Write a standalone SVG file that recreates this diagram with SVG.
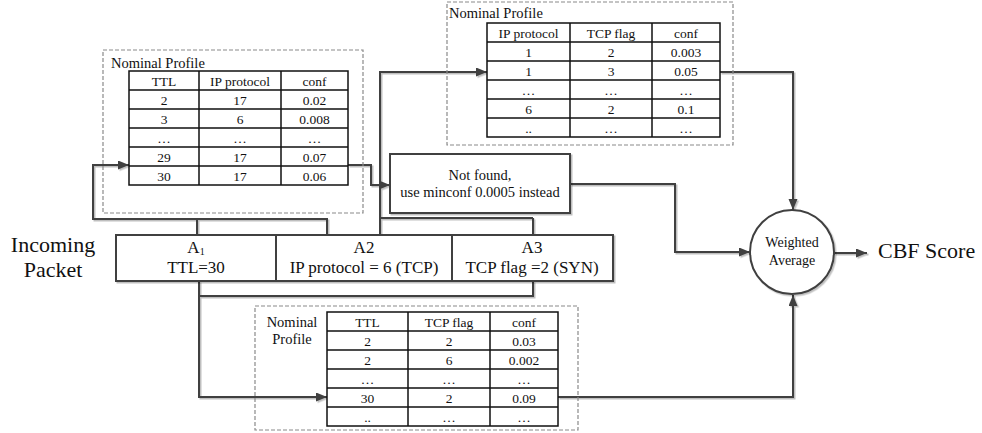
<svg xmlns="http://www.w3.org/2000/svg" width="982" height="433" viewBox="0 0 982 433">
  <defs>
    <marker id="arrow" markerUnits="userSpaceOnUse" markerWidth="12" markerHeight="10" refX="11" refY="4.5" orient="auto">
      <path d="M0,0 L11,4.5 L0,9 z" fill="#404040"/>
    </marker>
    <filter id="shade" x="-5%" y="-5%" width="110%" height="110%">
      <feDropShadow dx="1.5" dy="1.5" stdDeviation="0.7" flood-color="#000" flood-opacity="0.25"/>
    </filter>
  </defs>
  <style>
    text { font-family: "Liberation Serif", "Times New Roman", serif; fill: #111; }
    .cell { font-size: 13.5px; text-anchor: middle; }
    .title { font-size: 14.5px; }
    .big { font-size: 22px; }
    .attr { font-size: 17px; text-anchor: middle; }
    .mid { text-anchor: middle; }
    .dash { fill: none; stroke: #8a8a8a; stroke-width: 1.2; stroke-dasharray: 4 2; }
    .grid { fill: #fff; stroke: #111; stroke-width: 1.5; }
    .gline { stroke: #111; stroke-width: 1.5; }
    .box { fill: #fff; stroke: #404040; stroke-width: 2; }
    .link { fill: none; stroke: #404040; stroke-width: 2; }
  </style>
  <rect width="982" height="433" fill="#fff"/>

  <!-- connectors -->
  <g id="connectors" filter="url(#shade)">
    <!-- A1 + A2 to the TTL / IP protocol profile -->
    <path class="link" d="M197,235 V219"/>
    <path class="link" d="M327,235 V219 H93 V165 H129" marker-end="url(#arrow)"/>
    <!-- A2 + A3 to the IP protocol / TCP flag profile -->
    <path class="link" d="M533,235 V218"/>
    <path class="link" d="M380,235 V218 V72 H487" marker-end="url(#arrow)"/>
    <path class="link" d="M380,218 H533"/>
    <!-- lookup result to the fallback note -->
    <path class="link" d="M348,165 H371 V185 H390" marker-end="url(#arrow)"/>
    <!-- fallback note to the weighted average -->
    <path class="link" d="M570,184 H675 V252 H750" marker-end="url(#arrow)"/>
    <!-- IP protocol / TCP flag profile to the weighted average -->
    <path class="link" d="M720,72 H793 V210" marker-end="url(#arrow)"/>
    <!-- A1 + A3 to the TTL / TCP flag profile -->
    <path class="link" d="M533,281 V296 H199"/>
    <path class="link" d="M199,281 V397 H327" marker-end="url(#arrow)"/>
    <!-- TTL / TCP flag profile to the weighted average -->
    <path class="link" d="M558,397 H793 V295" marker-end="url(#arrow)"/>
    <!-- output -->
    <path class="link" d="M834,253 H867" marker-end="url(#arrow)"/>
  </g>

  <!-- profile: TTL x IP protocol -->
  <g id="profile-ttl-ip">
    <rect class="dash" x="103" y="50" width="260" height="163"/>
    <text class="title" x="111" y="68">Nominal Profile</text>
    <rect class="grid" x="129" y="71" width="219" height="114"/>
    <path class="gline" d="M129,90 H348 M129,109 H348 M129,128 H348 M129,147 H348 M129,166 H348 M199,71 V185 M281,71 V185"/>
    <g class="cell">
      <text x="164" y="85.5">TTL</text><text x="240" y="85.5">IP protocol</text><text x="314.5" y="85.5">conf</text>
      <text x="164" y="104.5">2</text><text x="240" y="104.5">17</text><text x="314.5" y="104.5">0.02</text>
      <text x="164" y="123.5">3</text><text x="240" y="123.5">6</text><text x="314.5" y="123.5">0.008</text>
      <text x="164" y="142.5">…</text><text x="240" y="142.5">…</text><text x="314.5" y="142.5">…</text>
      <text x="164" y="161.5">29</text><text x="240" y="161.5">17</text><text x="314.5" y="161.5">0.07</text>
      <text x="164" y="180.5">30</text><text x="240" y="180.5">17</text><text x="314.5" y="180.5">0.06</text>
    </g>
  </g>

  <!-- profile: IP protocol x TCP flag -->
  <g id="profile-ip-tcp">
    <rect class="dash" x="447" y="2" width="286" height="143"/>
    <text class="title" x="449" y="18">Nominal Profile</text>
    <rect class="grid" x="487" y="23" width="233" height="114"/>
    <path class="gline" d="M487,42 H720 M487,61 H720 M487,80 H720 M487,99 H720 M487,118 H720 M570,23 V137 M652,23 V137"/>
    <g class="cell">
      <text x="528.5" y="37.5">IP protocol</text><text x="611" y="37.5">TCP flag</text><text x="686" y="37.5">conf</text>
      <text x="528.5" y="56.5">1</text><text x="611" y="56.5">2</text><text x="686" y="56.5">0.003</text>
      <text x="528.5" y="75.5">1</text><text x="611" y="75.5">3</text><text x="686" y="75.5">0.05</text>
      <text x="528.5" y="94.5">…</text><text x="611" y="94.5">…</text><text x="686" y="94.5">…</text>
      <text x="528.5" y="113.5">6</text><text x="611" y="113.5">2</text><text x="686" y="113.5">0.1</text>
      <text x="528.5" y="132.5">..</text><text x="611" y="132.5">…</text><text x="686" y="132.5">…</text>
    </g>
  </g>

  <!-- profile: TTL x TCP flag -->
  <g id="profile-ttl-tcp">
    <rect class="dash" x="255" y="306" width="323" height="124"/>
    <text class="title mid" x="292" y="327">Nominal</text>
    <text class="title mid" x="292" y="344">Profile</text>
    <rect class="grid" x="327" y="312" width="231" height="114"/>
    <path class="gline" d="M327,331 H558 M327,350 H558 M327,369 H558 M327,388 H558 M327,407 H558 M408,312 V426 M490,312 V426"/>
    <g class="cell">
      <text x="367.5" y="326.5">TTL</text><text x="449" y="326.5">TCP flag</text><text x="524" y="326.5">conf</text>
      <text x="367.5" y="345.5">2</text><text x="449" y="345.5">2</text><text x="524" y="345.5">0.03</text>
      <text x="367.5" y="364.5">2</text><text x="449" y="364.5">6</text><text x="524" y="364.5">0.002</text>
      <text x="367.5" y="383.5">…</text><text x="449" y="383.5">…</text><text x="524" y="383.5">…</text>
      <text x="367.5" y="402.5">30</text><text x="449" y="402.5">2</text><text x="524" y="402.5">0.09</text>
      <text x="367.5" y="421.5">..</text><text x="449" y="421.5">…</text><text x="524" y="421.5">…</text>
    </g>
  </g>

  <!-- fallback note -->
  <g id="not-found">
    <rect class="box" x="390" y="154" width="180" height="59" stroke-width="1.5" filter="url(#shade)"/>
    <text class="title mid" x="480" y="180">Not found,</text>
    <text class="title mid" x="480" y="197">use minconf 0.0005 instead</text>
  </g>

  <!-- incoming packet attributes -->
  <g id="packet">
    <text class="big mid" x="53" y="252">Incoming</text>
    <text class="big mid" x="53" y="277">Packet</text>
    <rect class="box" x="116" y="235" width="497" height="46" filter="url(#shade)"/>
    <path class="link" d="M276,235 V281 M452,235 V281"/>
    <text class="attr" x="196" y="253">A<tspan font-size="10" dy="1.5">1</tspan></text>
    <text class="attr" x="196" y="273">TTL=30</text>
    <text class="attr" x="364" y="253">A2</text>
    <text class="attr" x="364" y="273">IP protocol = 6 (TCP)</text>
    <text class="attr" x="532" y="253">A3</text>
    <text class="attr" x="532" y="273">TCP flag =2 (SYN)</text>
  </g>

  <!-- weighted average -->
  <g id="weighted-average">
    <circle cx="792" cy="252" r="42" fill="#fff" stroke="#404040" stroke-width="2" filter="url(#shade)"/>
    <text class="mid" x="792" y="247" font-size="14">Weighted</text>
    <text class="mid" x="792" y="265" font-size="14">Average</text>
  </g>

  <!-- result -->
  <g id="cbf-score">
    <text class="big" x="878" y="258">CBF Score</text>
  </g>
</svg>
